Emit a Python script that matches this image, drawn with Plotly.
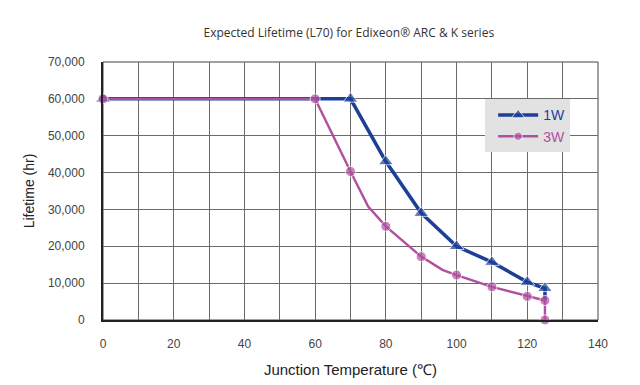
import plotly.graph_objects as go

# 1W series (last vertex has no marker)
x_1w = [0, 70, 80, 90, 100, 110, 120, 125, 125]
y_1w = [60000, 60000, 43000, 29000, 20000, 15700, 10300, 8600, 5300]
m_1w = [13, 13, 13, 13, 13, 13, 13, 13, 0]

# 3W series (some vertices have no marker)
x_3w = [0, 60, 70, 75, 80, 90, 96, 100, 110, 120, 125, 125]
y_3w = [60000, 60000, 40300, 30800, 25400, 17200, 13600, 12200, 9000, 6400, 5300, 0]
m_3w = [10, 10, 10, 0, 10, 10, 0, 10, 10, 10, 10, 10]

x_ticks = [0, 20, 40, 60, 80, 100, 120, 140]
y_ticks = [0, 10000, 20000, 30000, 40000, 50000, 60000, 70000]

BLUE = "#1d3f98"
MAG = "#b04fa0"

fig = go.Figure()
fig.add_trace(go.Scatter(
    x=x_1w, y=y_1w, mode="lines+markers", name=f'<span style="color:{BLUE}">1W</span>',
    line=dict(color=BLUE, width=3.5),
    marker=dict(symbol="triangle-up", size=m_1w, color=BLUE),
    cliponaxis=False,
))
fig.add_trace(go.Scatter(
    x=x_3w, y=y_3w, mode="lines+markers", name=f'<span style="color:{MAG}">3W</span>',
    line=dict(color=MAG, width=2.4),
    marker=dict(symbol="circle", size=m_3w, color=MAG),
    cliponaxis=False,
))

fig.update_layout(
    width=640, height=385,
    margin=dict(l=103, r=42, t=62, b=65),
    paper_bgcolor="white", plot_bgcolor="white",
    title=dict(text="Expected Lifetime (L70) for Edixeon® ARC & K series",
               x=0.545, xanchor="center", y=0.915, yanchor="middle",
               font=dict(family="Open Sans", size=12, color="#333")),
    showlegend=True,
    legend=dict(x=0.772, y=0.855, xanchor="left", yanchor="top",
                bgcolor="#e2e2e2", borderwidth=0,
                font=dict(family="Liberation Sans", size=14),
                itemwidth=40, tracegroupgap=0, indentation=8),
    font=dict(family="Liberation Sans", color="#444"),
)
fig.update_xaxes(
    range=[0, 140], tickvals=x_ticks, ticktext=[str(v) for v in x_ticks],
    showgrid=True, gridcolor="#6a6a6a", gridwidth=1,
    minor=dict(dtick=10, showgrid=True, gridcolor="#6a6a6a", gridwidth=1),
    showline=True, linecolor="#222", linewidth=2, mirror=False,
    zeroline=False, ticks="", tickfont=dict(size=12, color="#444"),
    ticklabelstandoff=12, automargin=False,
    title=dict(text="Junction Temperature (℃)", font=dict(size=15, color="#222"), standoff=14),
)
fig.update_yaxes(
    range=[0, 70000], tickvals=y_ticks, ticktext=[f"{v:,}" for v in y_ticks],
    showgrid=True, gridcolor="#6a6a6a", gridwidth=1,
    showline=True, linecolor="#222", linewidth=2,
    zeroline=False, ticks="", tickfont=dict(size=12, color="#444"),
    ticklabelstandoff=14, automargin=False,
    title=dict(text="Lifetime (hr)", font=dict(size=14, color="#222"), standoff=10),
)
# right and top border
fig.add_shape(type="rect", xref="paper", yref="paper", x0=0, y0=0, x1=1, y1=1,
              line=dict(color="#444", width=1), layer="below")

fig.write_html("out.html", config={"displayModeBar": False},
               post_script="document.body.style.margin='0';")
